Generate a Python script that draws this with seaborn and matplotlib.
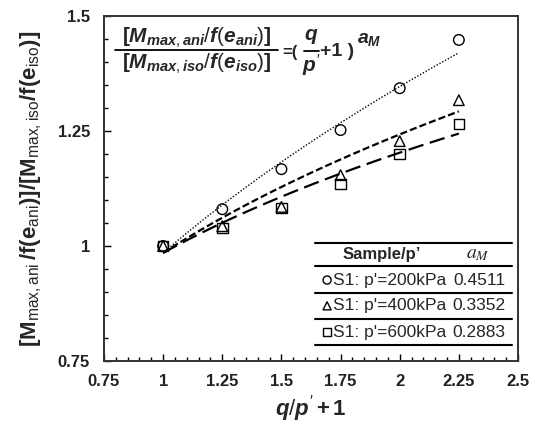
import numpy as np
import pandas as pd
import matplotlib
matplotlib.use("Agg")
import matplotlib.pyplot as plt
from matplotlib.ticker import MultipleLocator, FixedLocator
from matplotlib.lines import Line2D
import seaborn as sns

# Stress ratio axis values (q/p' + 1)
q_ratio = [1.0, 1.25, 1.5, 1.75, 2.0, 2.25]

# Normalised anisotropic/isotropic ratios for each confining pressure
s1_200 = [1.000, 1.080, 1.167, 1.252, 1.343, 1.448]
s1_400 = [1.000, 1.043, 1.085, 1.154, 1.228, 1.317]
s1_600 = [1.000, 1.039, 1.083, 1.135, 1.200, 1.265]

# Power-law exponents a_M of the fitted curves
a_m = [0.4511, 0.3352, 0.2883]
fit_scale = 0.985
sample_labels = ["S1: p'=200kPa", "S1: p'=400kPa", "S1: p'=600kPa"]

x_ticks = [0.75, 1, 1.25, 1.5, 1.75, 2, 2.25, 2.5]
x_tick_labels = ["0.75", "1", "1.25", "1.5", "1.75", "2", "2.25", "2.5"]
y_ticks = [0.75, 1, 1.25, 1.5]
y_tick_labels = ["0.75", "1", "1.25", "1.5"]

sns.set_theme(style="ticks")
plt.rcParams["font.family"] = ["Liberation Sans", "DejaVu Sans"]
plt.rcParams["mathtext.fontset"] = "custom"
plt.rcParams["mathtext.rm"] = "Liberation Sans"
plt.rcParams["mathtext.it"] = "Liberation Sans:italic:bold"
plt.rcParams["mathtext.bf"] = "Liberation Sans:bold"
plt.rcParams["mathtext.sf"] = "Liberation Sans"

W, H = 535, 424
fig = plt.figure(figsize=(W / 100, H / 100), dpi=100)
ax = fig.add_axes([104 / W, 1 - 361 / H, 414 / W, 345 / H])


def fpos(px, py):
    return px / W, 1 - py / H


series = [s1_200, s1_400, s1_600]
markers = ["o", "^", "s"]
styles = [(0, (1, 1.3)), (0, (3.2, 1.4)), (0, (7, 3))]
widths = [1.0, 1.6, 1.6]

xfit = np.linspace(q_ratio[0], q_ratio[-1], 200)
for vals, mk, ls, lw, a in zip(series, markers, styles, widths, a_m):
    sns.lineplot(x=xfit, y=fit_scale * xfit ** a, ax=ax, color="black",
                 linestyle=ls, linewidth=lw, zorder=2)
    sns.scatterplot(x=q_ratio, y=vals, ax=ax, marker=mk, s=58,
                    facecolors="none", edgecolors="black", linewidths=1.0,
                    zorder=3)

ax.set_xlim(0.75, 2.5)
ax.set_ylim(0.75, 1.5)
ax.xaxis.set_major_locator(FixedLocator(x_ticks))
ax.set_xticklabels(x_tick_labels)
ax.yaxis.set_major_locator(FixedLocator(y_ticks))
ax.set_yticklabels(y_tick_labels)
ax.xaxis.set_minor_locator(MultipleLocator(0.05))
ax.yaxis.set_minor_locator(MultipleLocator(0.05))
ax.tick_params(which="both", direction="in", color="black", width=1.0)
ax.tick_params(which="major", length=5)
ax.tick_params(which="minor", length=3)
ax.tick_params(axis="x", which="major", pad=9, labelsize=12)
ax.tick_params(axis="y", which="major", pad=10, labelsize=12)
for lab in ax.get_xticklabels() + ax.get_yticklabels():
    lab.set_fontweight("bold")
    lab.set_color("#222222")
for sp in ax.spines.values():
    sp.set_visible(True)
    sp.set_color("#333333")
    sp.set_linewidth(1.4)

ax.set_xlabel(r"$q/p'\,\mathbf{+\,1}$", fontsize=16, labelpad=3)
ax.set_ylabel(r"$\mathbf{[M}_{\rm max,ani}\,\mathbf{/f(e}_{\rm ani}\mathbf{)]/[M}_{\rm max,iso}\mathbf{/f(e}_{\rm iso}\mathbf{)]}$",
              fontsize=16, labelpad=10)

# Fitted relation, laid out as a stacked fraction
eq_fs = 15
fig.text(*fpos(197, 38), r"$\mathbf{[}M_{max,ani}/f(e_{ani})\mathbf{]}$",
         fontsize=eq_fs, ha="center", va="center")
fig.text(*fpos(197, 64), r"$\mathbf{[}M_{max,iso}/f(e_{iso})\mathbf{]}$",
         fontsize=eq_fs, ha="center", va="center")
fig.add_artist(Line2D([115 / W, 278 / W], [1 - 50 / H, 1 - 50 / H],
                      color="black", linewidth=1.3))
fig.text(*fpos(282, 52), "=(", fontsize=12, fontweight="bold",
         ha="left", va="center")
fig.text(*fpos(311, 37), r"$q$", fontsize=15, ha="center", va="center")
fig.text(*fpos(311, 65), r"$p'$", fontsize=15, ha="center", va="center")
fig.add_artist(Line2D([304 / W, 319 / W], [1 - 51 / H, 1 - 51 / H],
                      color="black", linewidth=1.3))
fig.text(*fpos(320, 52), "+1 )", fontsize=14, fontweight="bold",
         ha="left", va="center")
fig.text(*fpos(357, 40), r"$a_M$", fontsize=14, ha="left", va="center")

# Summary table
tx0, tx1 = 1.642, 2.474
for yy in [1.0065, 0.9565, 0.8978, 0.8413, 0.7848]:
    ax.plot([tx0, tx1], [yy, yy], color="black", linewidth=1.5, zorder=4)
ax.text(1.925, 0.982, "Sample/p\u2019", fontsize=12, fontweight="bold",
        ha="center", va="center")
ax.text(2.33, 0.982, r"$\mathbf{\mathit{a_M}}$", fontsize=14, ha="center",
        va="center", math_fontfamily="stix")
row_y = [0.926, 0.870, 0.813]
for yy, mk, lab, a in zip(row_y, markers, sample_labels, a_m):
    ax.scatter([1.693], [yy], marker=mk, s=34, facecolors="none",
               edgecolors="black", linewidths=1.0, zorder=4)
    ax.text(1.718, yy, lab, fontsize=12.5, ha="left", va="center")
    ax.text(2.335, yy, f"{a:.4f}", fontsize=12.5, ha="center", va="center")

fig.savefig("out.png", dpi=100, facecolor="white")
